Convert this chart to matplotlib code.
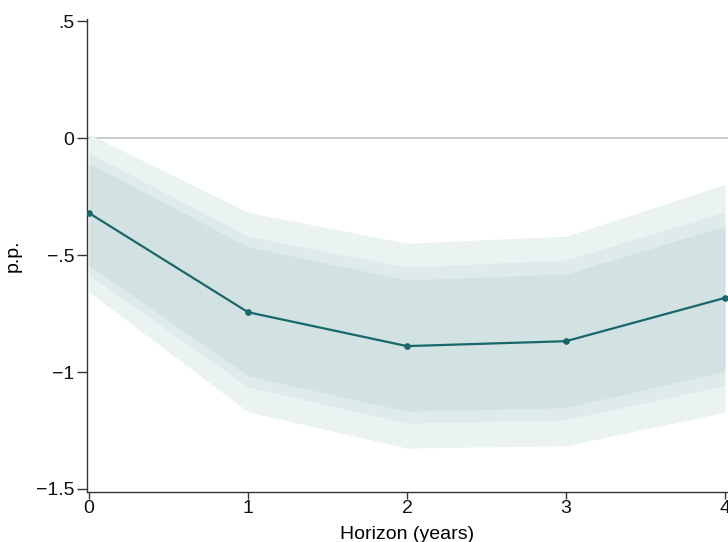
import numpy as np
import matplotlib.pyplot as plt

plt.rcParams['font.family'] = ['Liberation Sans', 'DejaVu Sans']

# horizon and point estimates
horizon = [0, 1, 2, 3, 4]
estimate = [-0.32, -0.744, -0.889, -0.868, -0.683]

# confidence bands (outer -> inner)
outer_hi = [0.017, -0.317, -0.449, -0.419, -0.198]
outer_lo = [-0.658, -1.170, -1.325, -1.315, -1.172]
mid_hi = [-0.064, -0.419, -0.551, -0.521, -0.315]
mid_lo = [-0.585, -1.064, -1.218, -1.205, -1.057]
inner_hi = [-0.107, -0.465, -0.607, -0.581, -0.376]
inner_lo = [-0.543, -1.016, -1.167, -1.152, -0.996]

yticks = [-1.5, -1, -0.5, 0, 0.5]
ytick_labels = ['\u22121.5', '\u22121', '\u2212.5', '0', '.5']

fig = plt.figure(figsize=(7.28, 5.42), dpi=100)
ax = fig.add_axes([87 / 728, 1 - 492 / 542, 641 / 728, 473 / 542])

ax.fill_between(horizon, outer_lo, outer_hi, color='#ebf2f2', lw=0, zorder=1)
ax.fill_between(horizon, mid_lo, mid_hi, color='#dfeaea', lw=0, zorder=2)
ax.fill_between(horizon, inner_lo, inner_hi, color='#d2e1e1', lw=0, zorder=3)
ax.axhline(0, color='#bdbdbd', lw=1.1, zorder=0.5)
ax.plot(horizon, estimate, color='#18676b', lw=1.6, marker='o', markersize=3.8, zorder=4)

ax.set_xlim(-0.013, 4.02)
ax.set_ylim(-1.513, 0.51)
ax.set_xticks(horizon)
ax.set_yticks(yticks)
ax.set_yticklabels(ytick_labels)

for s in ['top', 'right']:
    ax.spines[s].set_visible(False)
for s in ['left', 'bottom']:
    ax.spines[s].set_color('#333333')
    ax.spines[s].set_linewidth(1.0)
ax.tick_params(axis='both', colors='#333333', labelcolor='#111111', labelsize=14, width=1.0)
ax.tick_params(axis='y', length=7, pad=2)
ax.tick_params(axis='x', length=5, pad=1)

ax.set_xlabel('Horizon (years)', fontsize=14, labelpad=6)
ax.set_ylabel('p.p.', fontsize=14)
ax.yaxis.set_label_coords(-0.102, 0.5)

fig.savefig('out.png', dpi=100)
